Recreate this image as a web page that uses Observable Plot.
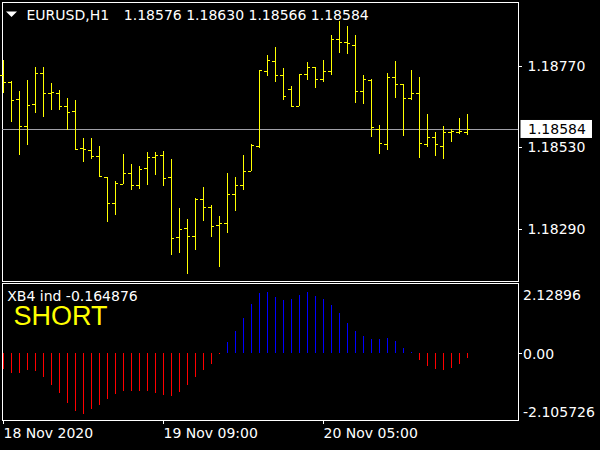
<!DOCTYPE html>
<html><head><meta charset="utf-8">
<script src="https://cdn.jsdelivr.net/npm/d3@7"></script>
<script src="https://cdn.jsdelivr.net/npm/@observablehq/plot@0.6"></script>
<style>
html,body{margin:0;padding:0;background:#000;width:600px;height:450px;overflow:hidden}
svg{display:block}
</style>
</head><body><div id="c"></div>
<script>
// ---- data ----
const symbol = "EURUSD";
const period = "H1";
const opens  = [1.18745,1.18723,1.18672,1.18593,1.18657,1.18750,1.18690,1.18690,1.18652,1.18637,1.18528,1.18522,1.18504,1.18442,1.18365,1.18421,1.18454,1.18418,1.18469,1.18501,1.18507,1.18442,1.18265,1.18292,1.18268,1.18377,1.18354,1.18300,1.18306,1.18392,1.18418,1.18460,1.18534,1.18755,1.18784,1.18743,1.18702,1.18652,1.18746,1.18767,1.18731,1.18755,1.18849,1.18840,1.18831,1.18696,1.18728,1.18584,1.18539,1.18737,1.18716,1.18675,1.18690,1.18539,1.18560,1.18534,1.18575,1.18575,1.18576];
const highs  = [1.18788,1.18726,1.18697,1.18729,1.18767,1.18767,1.18720,1.18700,1.18675,1.18669,1.18558,1.18558,1.18534,1.18442,1.18430,1.18511,1.18481,1.18475,1.18517,1.18517,1.18520,1.18495,1.18351,1.18318,1.18380,1.18413,1.18360,1.18327,1.18454,1.18442,1.18507,1.18539,1.18758,1.18802,1.18826,1.18764,1.18711,1.18746,1.18781,1.18767,1.18787,1.18861,1.18902,1.18888,1.18861,1.18743,1.18731,1.18595,1.18749,1.18784,1.18716,1.18758,1.18737,1.18628,1.18575,1.18593,1.18584,1.18616,1.18630];
const lows   = [1.18692,1.18606,1.18509,1.18538,1.18633,1.18621,1.18639,1.18639,1.18580,1.18525,1.18488,1.18497,1.18442,1.18311,1.18332,1.18421,1.18403,1.18406,1.18420,1.18450,1.18417,1.18212,1.18220,1.18156,1.18226,1.18314,1.18267,1.18178,1.18277,1.18342,1.18404,1.18460,1.18528,1.18740,1.18722,1.18669,1.18649,1.18652,1.18728,1.18705,1.18722,1.18743,1.18808,1.18805,1.18660,1.18657,1.18560,1.18510,1.18522,1.18675,1.18563,1.18669,1.18498,1.18531,1.18504,1.18495,1.18545,1.18569,1.18566];
const closes = [1.18723,1.18669,1.18593,1.18654,1.18750,1.18690,1.18693,1.18652,1.18634,1.18525,1.18525,1.18506,1.18445,1.18365,1.18424,1.18454,1.18418,1.18466,1.18501,1.18507,1.18439,1.18262,1.18289,1.18268,1.18377,1.18354,1.18298,1.18306,1.18392,1.18418,1.18460,1.18536,1.18758,1.18787,1.18743,1.18681,1.18652,1.18746,1.18767,1.18731,1.18755,1.18849,1.18840,1.18837,1.18696,1.18731,1.18590,1.18542,1.18737,1.18716,1.18675,1.18690,1.18542,1.18560,1.18539,1.18575,1.18578,1.18578,1.18584];
const indName = "XB4 ind";
const xb4 = [-0.555,-0.683,-0.683,-0.579,-0.614,-0.822,-1.100,-1.398,-1.724,-2.001,-2.105726,-1.953,-1.793,-1.585,-1.412,-1.308,-1.308,-1.308,-1.308,-1.377,-1.446,-1.481,-1.353,-1.100,-0.822,-0.579,-0.371,-0.03,0.392,0.773,1.214,1.700,2.071,2.12896,1.942,1.838,1.873,2.012,2.10,1.988,1.883,1.675,1.398,1.051,0.773,0.600,0.496,0.496,0.531,0.427,0.184,0.03,-0.232,-0.44,-0.545,-0.579,-0.51,-0.371,-0.164876];
const signal = "SHORT";
const timeTicks = [0, 20, 40];
const timeLabels = ["18 Nov 2020", "19 Nov 09:00", "20 Nov 05:00"];
const priceTicks = [1.18770, 1.18530, 1.18290];
const indLevels = [2.12896, 0, -2.105726];
const indLevelLabels = ["2.12896", "0.00", "-2.105726"];

// ---- build ----
const N = closes.length;
const bars = closes.map((c, i) => ({i, open: opens[i], high: highs[i], low: lows[i], close: c}));
const ind = xb4.map((v, i) => ({i, v}));
const last = bars[N - 1];
const fmt5 = d3.format(".5f");
const xDomain = [-0.125, 64.375];
const FONT = "DejaVu Sans";
const baseStyle = {background: "#000", color: "#fff", fontFamily: FONT, fontSize: "14px"};
const YEL = "#ffff00";

const main = Plot.plot({
  width: 600, height: 282,
  marginTop: 2, marginBottom: 1, marginLeft: 2, marginRight: 82,
  style: baseStyle,
  x: {domain: xDomain, round: true, axis: null},
  y: {domain: [1.18136, 1.18959], round: true, axis: null},
  marks: [
    Plot.frame({stroke: "#fff"}),
    Plot.ruleY([last.close], {y: d => d, stroke: "#a0a0a8"}),
    Plot.ruleX(bars, {x: "i", y1: "low", y2: "high", stroke: YEL}),
    Plot.ruleY(bars, {y: "open", x1: d => d.i - 0.375, x2: "i", stroke: YEL}),
    Plot.ruleY(bars, {y: "close", x1: "i", x2: d => d.i + 0.375, stroke: YEL}),
    Plot.axisY({anchor: "right", label: null, ticks: priceTicks, tickFormat: fmt5, tickSize: 3, tickPadding: 6, stroke: "#fff", fill: "#fff"}),
    Plot.text([last], {y: "close", text: d => fmt5(d.close), frameAnchor: "right", dx: 9.5, textAnchor: "start", fill: "#000", className: "curlbl"}),
    Plot.text([`${symbol},${period}`], {text: d => d, frameAnchor: "top-left", dx: 24, dy: 13, textAnchor: "start", lineAnchor: "middle", fill: "#fff"}),
    Plot.text([last], {text: d => [d.open, d.high, d.low, d.close].map(fmt5).join(" "), frameAnchor: "top-left", dx: 121.3, dy: 13, textAnchor: "start", lineAnchor: "middle", fill: "#fff"})
  ]
});

const sub = Plot.plot({
  width: 600, height: 168,
  marginTop: 1, marginBottom: 30, marginLeft: 2, marginRight: 82,
  style: baseStyle,
  x: {domain: xDomain, round: true, axis: null},
  y: {domain: [-2.324, 2.428], round: true, axis: null},
  marks: [
    Plot.frame({stroke: "#fff"}),
    Plot.ruleX(ind, {x: "i", y1: 0, y2: "v", stroke: d => d.v >= 0 ? "#0000ff" : "#ff0000"}),
    Plot.axisX({anchor: "bottom", label: null, ticks: timeTicks, tickFormat: d => timeLabels[timeTicks.indexOf(d)], tickSize: 4, tickPadding: 4, textAnchor: "start", stroke: "#fff", fill: "#fff"}),
    Plot.axisY({anchor: "right", label: null, ticks: [0], tickFormat: () => "", tickSize: 3, stroke: "#fff"}),
    ...indLevels.map((v, k) => Plot.text([v], {y: d => d, text: () => indLevelLabels[k], frameAnchor: "right", dx: 4.5, dy: [3, 1, -2][k], textAnchor: "start", fill: "#fff"})),
    Plot.text([`${indName} ${xb4[N - 1]}`], {text: d => d, frameAnchor: "top-left", dx: 4.7, dy: 13, textAnchor: "start", lineAnchor: "middle", fill: "#fff"}),
    Plot.text([signal], {text: d => d, frameAnchor: "top-left", dx: 11, dy: 33, textAnchor: "start", lineAnchor: "middle", fill: YEL, fontSize: 27, fontFamily: "Liberation Sans"})
  ]
});

const c = document.getElementById("c");
c.appendChild(main);
c.appendChild(sub);

// current price box behind its label (same local coordinates as the text)
const lbl = main.querySelector(".curlbl text");
if (lbl) {
  const bb = lbl.getBBox();
  const cy = bb.y + bb.height / 2;
  const r = d3.select(lbl.parentNode).insert("rect", "text")
    .attr("x", bb.x - 7.5).attr("y", cy - 9)
    .attr("width", bb.width + 13.5).attr("height", 18)
    .attr("fill", "#fff");
  const t = lbl.getAttribute("transform");
  if (t) r.attr("transform", t);
}
// chart menu triangle
d3.select(main).append("path")
  .attr("d", "M6,11.5 L17,11.5 L11.5,17 Z")
  .attr("fill", "#fff");
</script>
</body></html>
